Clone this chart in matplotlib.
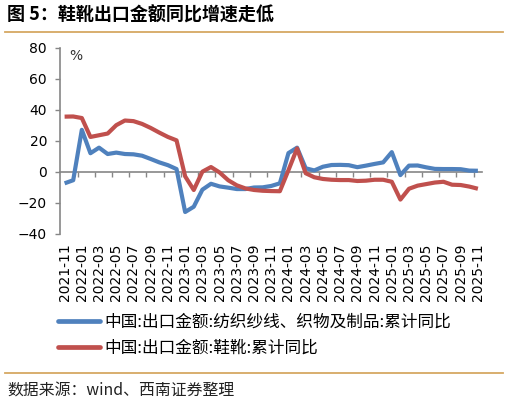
import numpy as np
import pandas as pd
import matplotlib
matplotlib.use("Agg")
import matplotlib.pyplot as plt
from matplotlib.lines import Line2D

plt.rcParams["font.family"] = ["DejaVu Sans", "Noto Sans CJK SC"]

# monthly categories, 2021-11 .. 2025-11
months = pd.period_range("2021-11", "2025-11", freq="M").strftime("%Y-%m").tolist()
tick_labels = months[::2]

# 中国:出口金额:纺织纱线、织物及制品:累计同比 (%)
textile_yoy = [
    -7.5, -5.5, 27.0, 11.9, 15.5, 11.4, 12.3, 11.4, 11.2, 10.3, 8.2, 6.0, 4.2, 1.7,
    -26.0, -22.6, -11.6, -7.8, -9.5, -10.3, -11.2, -11.2, -10.2, -10.1, -9.2, -7.5,
    12.0, 15.5, 2.2, 0.8, 3.2, 4.3, 4.4, 4.2, 2.9, 3.9, 5.0, 6.0,
    12.6, -2.2, 3.9, 4.0, 2.8, 1.8, 1.7, 1.7, 1.6, 0.7, 0.6,
]
# 中国:出口金额:鞋靴:累计同比 (%)
shoes_yoy = [
    35.5, 35.6, 34.6, 22.4, 23.5, 24.6, 30.0, 33.0, 32.6, 30.8, 28.2, 25.2, 22.4, 20.2,
    -3.0, -11.8, 0.0, 3.0, -0.5, -5.5, -8.8, -10.8, -11.8, -12.3, -12.5, -12.6,
    1.0, 15.0, -1.0, -3.6, -4.7, -5.2, -5.4, -5.4, -6.0, -5.8, -5.2, -5.2,
    -6.5, -18.0, -11.0, -9.0, -8.0, -7.0, -6.5, -8.4, -8.6, -9.6, -11.0,
]

series_names = [
    "中国:出口金额:纺织纱线、织物及制品:累计同比",
    "中国:出口金额:鞋靴:累计同比",
]
colors = ["#4f81bd", "#c0504d"]

axis_grey = "#868686"
rule_color = "#d6a862"
cjk = ["Noto Sans CJK SC", "DejaVu Sans"]

fig = plt.figure(figsize=(5.08, 4.04), dpi=100)
ax = fig.add_axes([0.1187, 0.4215, 0.8305, 0.4606])

x = np.arange(len(months))
for vals, col in zip([textile_yoy, shoes_yoy], colors):
    ax.plot(x, vals, color=col, lw=3.0, solid_joinstyle="round", solid_capstyle="butt")

ax.set_xlim(-0.5, len(months) - 0.5)
ax.set_ylim(-40, 80)
ax.set_yticks(np.arange(-40, 81, 20))

# category labels at the bottom, no tick marks there
ax.set_xticks(x[::2])
ax.set_xticklabels(tick_labels, rotation=90, fontsize=10, color="black")
ax.tick_params(axis="x", length=0, pad=7)
ax.tick_params(axis="y", length=3.5, width=1, color=axis_grey, labelsize=10, pad=6)

for s in ["top", "right", "bottom"]:
    ax.spines[s].set_visible(False)
ax.spines["left"].set_color(axis_grey)
ax.spines["left"].set_linewidth(1.2)

# category axis crossing at zero, tick marks between categories
zero_ax = ax.secondary_xaxis(40 / 120)
zero_ax.set_xticks(np.arange(1.5, len(months) - 0.5, 2))
zero_ax.set_xticklabels([])
zero_ax.tick_params(axis="x", direction="out", length=3.5, width=1, color=axis_grey)
zero_ax.spines["bottom"].set_color(axis_grey)
zero_ax.spines["bottom"].set_linewidth(1.2)

ax.text(0.022, 0.995, "%", transform=ax.transAxes, fontsize=10, va="top", ha="left",
        color="#333333")

handles = [Line2D([], [], color=c, lw=3.4, solid_capstyle="round") for c in colors]
fig.legend(handles, series_names, loc="upper left",
           bbox_to_anchor=(58 / 508, 1 - 314 / 404), frameon=False,
           prop={"family": cjk, "size": 12}, handlelength=2.5, handletextpad=0.3,
           labelspacing=0.5, borderpad=0, borderaxespad=0)

# title, rules and source note
fig.text(7 / 508, 1 - 15 / 404, "图 5：鞋靴出口金额同比增速走低", family=cjk,
         fontsize=13, fontweight="bold", va="center", ha="left")
fig.add_artist(Line2D([5 / 508, 503 / 508], [1 - 32 / 404] * 2, color=rule_color, lw=1.3))
fig.add_artist(Line2D([5 / 508, 503 / 508], [1 - 373 / 404] * 2, color=rule_color, lw=1.3))
fig.text(7 / 508, 1 - 391 / 404, "数据来源：wind、西南证券整理", family=cjk,
         fontsize=11.4, style="italic", va="center", ha="left", color="#222222")

fig.savefig("out.png", dpi=100)
